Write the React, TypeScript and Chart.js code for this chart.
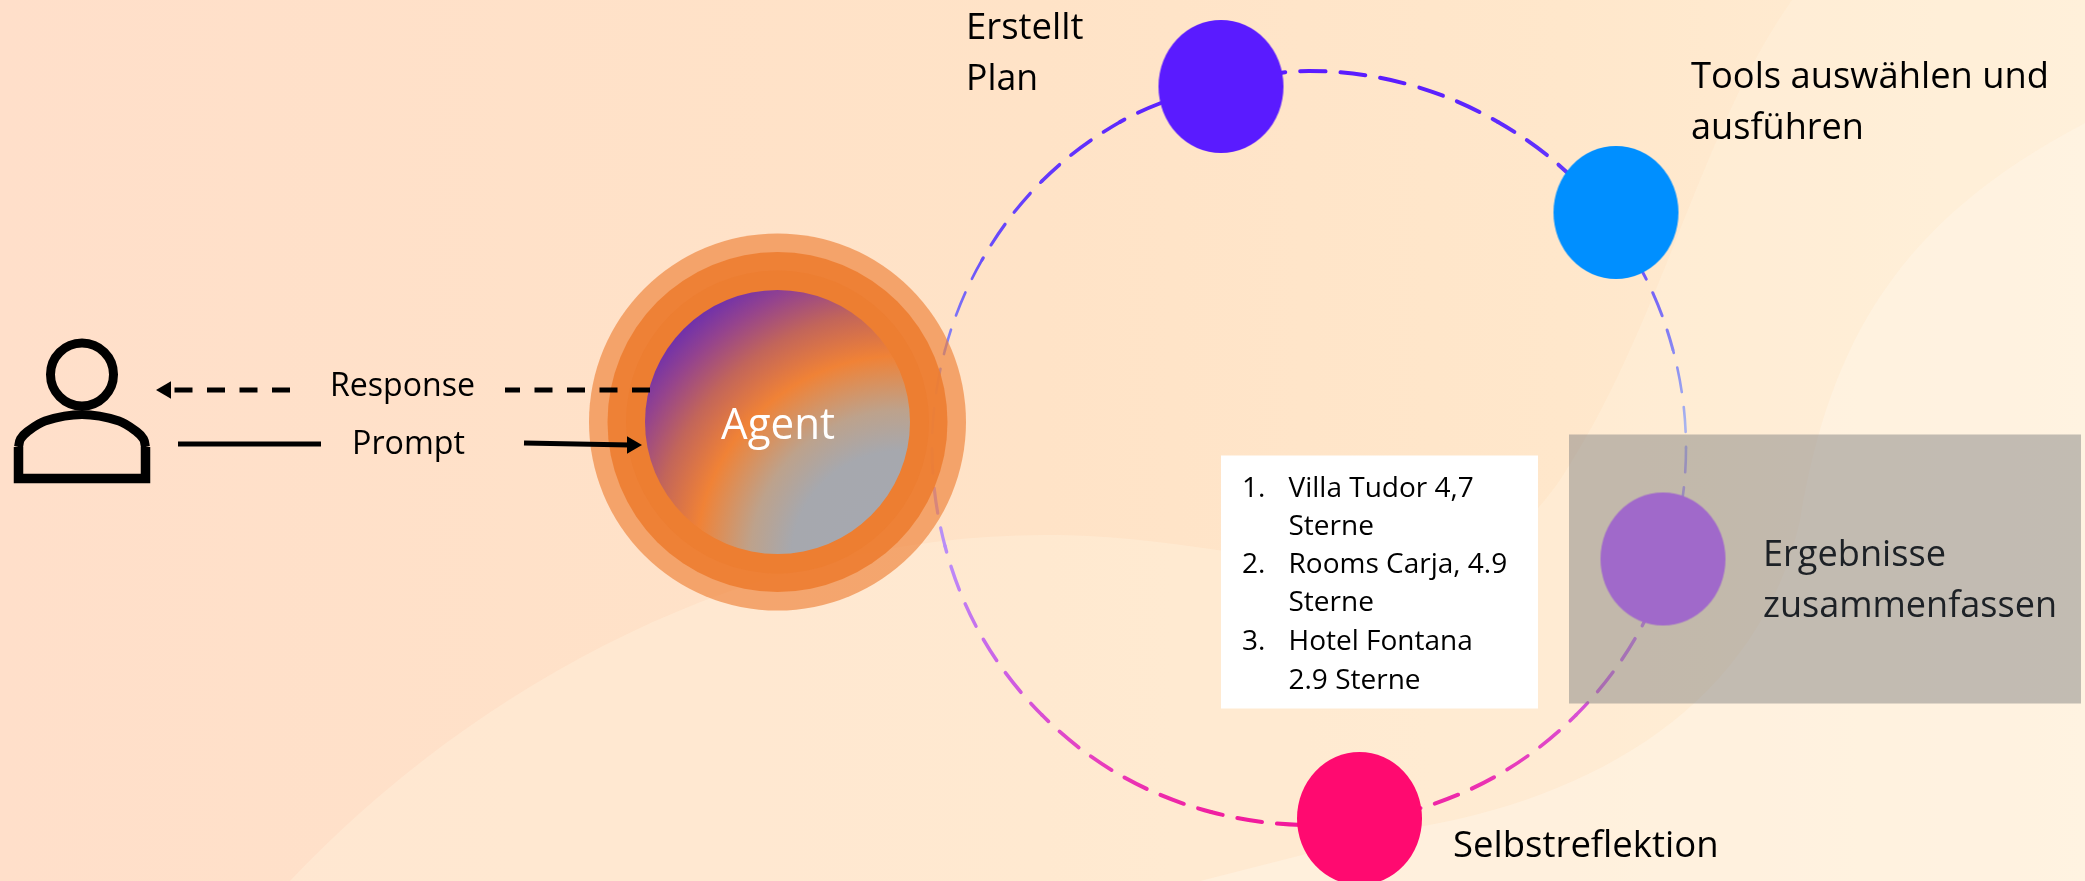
import React, { useEffect, useRef } from "react";
import { Chart, registerables } from "chart.js";

Chart.register(...registerables);

const W = 2085;
const H = 881;

// closed dashed orbit, clockwise; it starts and ends hidden behind the first node
const ringX = [1211, 1309, 1407, 1498, 1576, 1636, 1673, 1686, 1673, 1636, 1576, 1498, 1407, 1309, 1211, 1120, 1042, 982, 945, 932, 945, 982, 1042, 1120, 1211];
const ringY = [84, 71, 84, 122, 181, 260, 350, 448, 546, 637, 715, 775, 812, 825, 812, 775, 715, 637, 546, 448, 350, 260, 181, 122, 84];
const ringWidths = [4, 4, 4, 4, 3.6, 3, 2.6, 2.6, 3.4, 3.4, 3.6, 4, 4, 4, 4, 3.8, 3.6, 3.4, 3.2, 2.6, 2.6, 3.2, 3.6, 3.8];

const nodeNames = ["Erstellt Plan", "Tools", "Ergebnisse", "Selbstreflektion"];
const nodeX = [1221, 1616, 1663, 1359.5];
const nodeY = [86.5, 212.5, 559, 818.5];
const nodeColors = ["#5a1bff", "#008fff", "#a069ca", "#ff0a70"];

const agentX = 777.5;
const agentY = 422;
const agentRadii = [188.5, 170, 151.5];
const agentColors = ["rgba(237,125,49,0.62)", "rgba(237,125,49,0.9)", "rgba(237,125,49,0.98)"];

const responseX = [290, 172];
const responseLeftY = [390, 390];
const responseRightX = [650, 505];
const promptLeftX = [178, 321];
const promptLeftY = [444, 444];
const promptRightX = [524, 630];
const promptRightY = [443, 445];

const headX = [82];
const headY = [374.5];
const bodyFrameX = [18.5, 18.5, 145.5, 145.5];
const bodyFrameY = [447, 478.5, 478.5, 447];
const bodyDomeX = [18.5, 20.5, 27, 45, 82, 119, 137, 143.5, 145.5];
const bodyDomeY = [447, 439, 432, 421, 414.5, 421, 432, 439, 447];

const listNumbers = ["1.", "", "2.", "", "3.", ""];
const listLines = ["Villa Tudor 4,7", "Sterne", "Rooms Carja, 4.9", "Sterne", "Hotel Fontana", "2.9 Sterne"];
const listY = [497, 535, 573, 611, 650, 689];

type Label = { t: string; x: number; y: number; w: number; size: number; color: string };
const labels: Label[] = [
  { t: "Erstellt", x: 966, y: 39, w: 118, size: 36.5, color: "#000" },
  { t: "Plan", x: 966, y: 90, w: 72, size: 36.5, color: "#000" },
  { t: "Tools auswählen und", x: 1691, y: 88, w: 358, size: 36.5, color: "#000" },
  { t: "ausführen", x: 1691, y: 139, w: 173, size: 36.5, color: "#000" },
  { t: "Ergebnisse", x: 1763, y: 566, w: 183, size: 36.5, color: "#1d2126" },
  { t: "zusammenfassen", x: 1763, y: 617, w: 294, size: 36.5, color: "#1d2126" },
  { t: "Selbstreflektion", x: 1453, y: 857, w: 268, size: 36.5, color: "#000" },
  { t: "Response", x: 330, y: 396, w: 145, size: 32.5, color: "#000" },
  { t: "Prompt", x: 352, y: 454, w: 113, size: 32.5, color: "#000" },
  { t: "Agent", x: 721, y: 439, w: 114, size: 43, color: "#fff" },
];

function ellipseCanvas(fill: (c: CanvasRenderingContext2D, w: number, h: number) => void, rx: number, ry: number) {
  const c = document.createElement("canvas");
  c.width = Math.ceil(rx * 2) + 4;
  c.height = Math.ceil(ry * 2) + 4;
  const g = c.getContext("2d")!;
  fill(g, c.width, c.height);
  g.beginPath();
  g.ellipse(c.width / 2, c.height / 2, rx, ry, 0, 0, Math.PI * 2);
  g.fill();
  return c;
}

export default function App() {
  const ref = useRef<HTMLCanvasElement | null>(null);

  useEffect(() => {
    document.body.style.margin = "0";
    const canvas = ref.current!;
    const ctx0 = canvas.getContext("2d")!;

    const ringGrad = ctx0.createLinearGradient(0, 70, 0, 826);
    [
      [0, "#5a1bff"],
      [0.25, "#6a4ffa"],
      [0.38, "#8a8cf2"],
      [0.47, "#a8b4ee"],
      [0.53, "#b09cf2"],
      [0.66, "#bc88f8"],
      [0.8, "#cc5ee4"],
      [0.92, "#e83cbc"],
      [1, "#f2189a"],
    ].forEach(([o, c]) => ringGrad.addColorStop(o as number, c as string));

    const nodeImgs = nodeColors.map((col) =>
      ellipseCanvas((g) => { g.fillStyle = col; }, 62.5, 66.5)
    );
    const agentImg = ellipseCanvas(
      (g, w, h) => {
        // centre of the sphere's shading in page pixels: (900, 560)
        const gx = 900 - (agentX - w / 2);
        const gy = 560 - (agentY - h / 2);
        const rg = g.createRadialGradient(gx, gy, 0, gx, gy, 340);
        rg.addColorStop(0, "#a6a8b0");
        rg.addColorStop(0.32, "#a6a8ae");
        rg.addColorStop(0.44, "#bda28c");
        rg.addColorStop(0.6, "#f08236");
        rg.addColorStop(0.735, "#c2655a");
        rg.addColorStop(0.85, "#94438e");
        rg.addColorStop(0.94, "#6c2fae");
        rg.addColorStop(1, "#5c24bc");
        g.fillStyle = rg;
      },
      132.5,
      132
    );

    const toPts = (xs: number[], ys: number[]) => xs.map((x, i) => ({ x, y: ys[i] }));
    const black = { borderColor: "#000", backgroundColor: "#000", showLine: true, pointRadius: 0, clip: false as const };

    const backdrop = {
      id: "backdrop",
      beforeDraw(chart: Chart) {
        const c = chart.ctx;
        c.save();
        const lg = c.createLinearGradient(0, 0, W, 0);
        lg.addColorStop(0, "#ffdfca");
        lg.addColorStop(0.5, "#ffe3c7");
        lg.addColorStop(0.75, "#ffe7cb");
        lg.addColorStop(1, "#ffeed6");
        c.fillStyle = lg;
        c.fillRect(0, 0, W, H);
        c.fillStyle = "rgba(255,243,225,0.36)";
        c.beginPath();
        c.moveTo(290, 881);
        c.bezierCurveTo(480, 680, 760, 530, 1060, 535);
        c.bezierCurveTo(1300, 540, 1450, 640, 1560, 480);
        c.bezierCurveTo(1660, 330, 1700, 130, 1792, 0);
        c.lineTo(W, 0);
        c.lineTo(W, H);
        c.closePath();
        c.fill();
        c.fillStyle = "rgba(255,246,232,0.5)";
        c.beginPath();
        c.moveTo(W, 123);
        c.bezierCurveTo(1900, 220, 1830, 340, 1800, 520);
        c.bezierCurveTo(1760, 700, 1600, 800, 1400, 830);
        c.lineTo(1200, 881);
        c.lineTo(W, H);
        c.closePath();
        c.fill();
        c.restore();
      },
    };

    const overlays = {
      id: "overlays",
      afterDatasetDraw(chart: Chart, args: { index: number }) {
        if (args.index !== 0) return;
        const c = chart.ctx;
        const sx = chart.scales.x;
        const sy = chart.scales.y;
        c.save();
        c.fillStyle = "rgba(128,128,128,0.48)";
        c.fillRect(sx.getPixelForValue(1569), sy.getPixelForValue(434.5), 512, 269);
        c.fillStyle = "#ffffff";
        c.fillRect(sx.getPixelForValue(1221), sy.getPixelForValue(455.5), 317, 253);
        c.restore();
      },
      afterDatasetsDraw(chart: Chart) {
        const c = chart.ctx;
        const sx = chart.scales.x;
        const sy = chart.scales.y;
        c.save();
        c.textBaseline = "alphabetic";
        c.textAlign = "left";
        for (const l of labels) {
          c.font = `${l.size}px "Open Sans"`;
          c.fillStyle = l.color;
          c.fillText(l.t, sx.getPixelForValue(l.x), sy.getPixelForValue(l.y), l.w);
        }
        c.font = `28px "Open Sans"`;
        c.fillStyle = "#000";
        listLines.forEach((t, i) => {
          if (listNumbers[i]) c.fillText(listNumbers[i], sx.getPixelForValue(1242), sy.getPixelForValue(listY[i]));
          c.fillText(t, sx.getPixelForValue(1288.5), sy.getPixelForValue(listY[i]));
        });
        c.restore();
      },
    };

    const chart = new Chart(canvas, {
      type: "scatter",
      data: {
        datasets: [
          {
            label: "Orbit",
            data: toPts(ringX, ringY),
            showLine: true,
            tension: 0.34,
            pointRadius: 0,
            borderColor: ringGrad,
            borderWidth: 3,
            borderCapStyle: "round",
            borderDash: [25, 15],
            segment: {
              borderWidth: (s: any) => ringWidths[s.p0DataIndex],
              // keeps the dash rhythm continuous from one 15° step of the orbit to the next
              borderDashOffset: (s: any) => 8.5 + (s.p0DataIndex - 1) * 98.7,
            },
            order: 10,
            clip: false,
          },
          ...agentRadii.map((r, i) => ({
            label: `Agent ring ${i + 1}`,
            data: [{ x: agentX, y: agentY }],
            pointRadius: r,
            pointBackgroundColor: agentColors[i],
            pointBorderWidth: 0,
            pointHoverRadius: r,
            order: 9 - i,
            clip: false,
          })),
          {
            label: "Agent",
            data: [{ x: agentX, y: agentY }],
            pointStyle: agentImg,
            pointRadius: 130,
            order: 6,
            clip: false,
          },
          { ...black, label: "Response left", data: toPts(responseX, responseLeftY), borderWidth: 5, borderDash: [18, 14.5], order: 5 },
          { ...black, label: "Response right", data: toPts(responseRightX, responseLeftY), borderWidth: 5, borderDash: [18, 14.5], order: 5 },
          { ...black, label: "Prompt left", data: toPts(promptLeftX, promptLeftY), borderWidth: 5, order: 5 },
          { ...black, label: "Prompt right", data: toPts(promptRightX, promptRightY), borderWidth: 5, order: 5 },
          {
            label: "Arrow heads",
            data: [{ x: 166, y: 390 }, { x: 632, y: 445 }],
            pointStyle: "triangle",
            pointRadius: 10,
            pointRotation: [-90, 90],
            pointBackgroundColor: "#000",
            pointBorderWidth: 0,
            order: 4,
            clip: false,
          },
          {
            label: "User head",
            data: toPts(headX, headY),
            pointRadius: 31.5,
            pointBackgroundColor: "rgba(0,0,0,0)",
            pointBorderColor: "#000",
            pointBorderWidth: 9,
            order: 3,
            clip: false,
          },
          { ...black, label: "User body", data: toPts(bodyFrameX, bodyFrameY), borderWidth: 9.5, order: 3, borderJoinStyle: "miter" as const },
          { ...black, label: "User shoulders", data: toPts(bodyDomeX, bodyDomeY), borderWidth: 9, tension: 0.34, order: 3 },
          {
            label: nodeNames.join(", "),
            data: toPts(nodeX, nodeY),
            pointStyle: nodeImgs,
            pointRadius: 60,
            order: 1,
            clip: false,
          },
        ] as any,
      },
      options: {
        responsive: false,
        animation: false,
        events: [],
        layout: { padding: 0, autoPadding: false },
        scales: {
          x: { type: "linear", min: 0, max: W, display: false },
          y: { type: "linear", min: 0, max: H, reverse: true, display: false },
        },
        plugins: { legend: { display: false }, tooltip: { enabled: false } },
      },
      plugins: [backdrop, overlays],
    } as any);

    return () => chart.destroy();
  }, []);

  return <canvas ref={ref} width={W} height={H} style={{ display: "block", width: W, height: H }} />;
}
